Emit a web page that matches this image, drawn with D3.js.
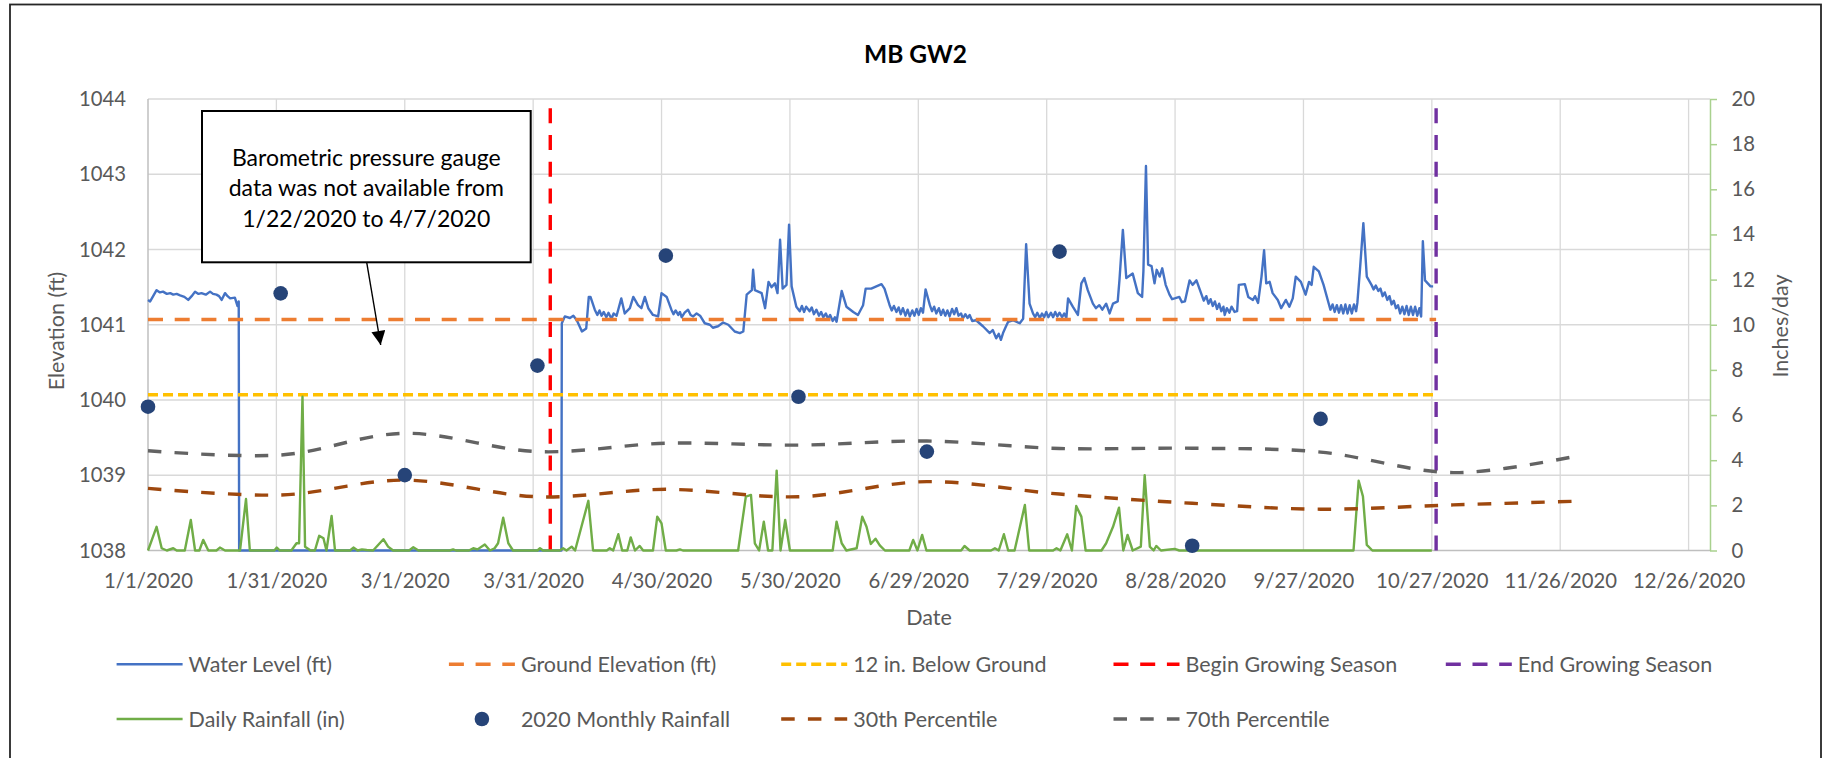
<!DOCTYPE html>
<html>
<head>
<meta charset="utf-8">
<script src="https://cdn.jsdelivr.net/npm/d3@7"></script>
<style>
body { margin: 0; background: #fff; }
svg text { font-family: Lato, "Open Sans", sans-serif; }
</style>
</head>
<body>
<div id="chart"></div>
<script>
// ---- data (days are counted from 1/1/2020) ----
var xTickLabels = ["1/1/2020", "1/31/2020", "3/1/2020", "3/31/2020", "4/30/2020", "5/30/2020",
    "6/29/2020", "7/29/2020", "8/28/2020", "9/27/2020", "10/27/2020", "11/26/2020", "12/26/2020"];
var leftTicks = [1038, 1039, 1040, 1041, 1042, 1043, 1044];
var rightTicks = [0, 2, 4, 6, 8, 10, 12, 14, 16, 18, 20];

var waterLevel = [
    [0, 1041.33], [0.5, 1041.31], [1, 1041.36], [2, 1041.46], [2.8, 1041.43], [3.5, 1041.44], [4.4, 1041.41],
    [5.2, 1041.42], [5.9, 1041.40], [6.7, 1041.41], [7.5, 1041.39], [8.5, 1041.37], [9.4, 1041.33], [10.2, 1041.38],
    [11, 1041.44], [11.8, 1041.41], [12.5, 1041.42], [13.5, 1041.40], [14.5, 1041.44], [15.2, 1041.41], [16, 1041.40],
    [16.6, 1041.38], [17.2, 1041.33], [18, 1041.42], [18.6, 1041.38], [19.2, 1041.35], [20.3, 1041.36], [20.9, 1041.25],
    [21.2, 1041.31], [21.3, 1038], [96.6, 1038], [96.7, 1041.02], [97.4, 1041.11], [98.6, 1041.09], [99.4, 1041.12],
    [100.2, 1041.06], [101.4, 1040.91], [102.4, 1040.95], [103, 1041.37], [103.4, 1041.37], [104.4, 1041.20],
    [105, 1041.13], [105.5, 1041.19], [106, 1041.12], [106.5, 1041.17], [107.1, 1041.10], [107.6, 1041.16],
    [108.3, 1041.08], [108.8, 1041.15], [109.5, 1041.12], [110.6, 1041.35], [111.4, 1041.15],
    [112.6, 1041.22], [113.4, 1041.37], [114.5, 1041.26], [115.3, 1041.22], [116.1, 1041.37], [116.9, 1041.22],
    [118, 1041.13], [119.2, 1041.11], [120, 1041.42], [121.2, 1041.37], [122.3, 1041.20], [122.8, 1041.14],
    [123.3, 1041.19], [123.9, 1041.13], [124.3, 1041.17], [124.7, 1041.10], [125.4, 1041.16], [126.2, 1041.20],
    [126.8, 1041.13], [127.4, 1041.11], [128.2, 1041.15], [129, 1041.12], [130.1, 1041.02], [131.3, 1041.00],
    [132, 1040.96], [133.2, 1040.98], [134.4, 1041.03], [135.6, 1041.00], [137.1, 1040.91], [138.3, 1040.89],
    [139.1, 1040.91], [139.9, 1041.40], [141.1, 1041.46], [141.4, 1041.73], [141.8, 1041.46], [142.6, 1041.44],
    [143.4, 1041.42], [144.2, 1041.22], [145, 1041.57], [145.7, 1041.50], [146.5, 1041.55], [147.1, 1041.42],
    [147.7, 1042.13], [148.3, 1041.48], [149.2, 1041.53], [149.8, 1042.33], [150.4, 1041.51], [151.5, 1041.24],
    [152.3, 1041.18], [152.8, 1041.25], [153.3, 1041.17], [153.8, 1041.24], [154.6, 1041.18], [155.1, 1041.23],
    [155.6, 1041.14], [156.2, 1041.20], [156.8, 1041.12], [157.3, 1041.17], [157.8, 1041.10], [158.4, 1041.15],
    [158.9, 1041.08], [159.4, 1041.13], [160, 1041.05], [160.5, 1041.10], [160.9, 1041.04],
    [162.1, 1041.45], [163.2, 1041.24], [164.8, 1041.17], [165.9, 1041.13], [167.1, 1041.26], [167.7, 1041.48],
    [169, 1041.48], [170.2, 1041.51], [171.4, 1041.54], [172.1, 1041.48], [173.3, 1041.26], [173.8, 1041.19],
    [174.3, 1041.25], [174.9, 1041.17], [175.4, 1041.23], [175.9, 1041.14], [176.4, 1041.22], [177, 1041.12],
    [177.5, 1041.20], [178, 1041.11], [178.6, 1041.19], [179.1, 1041.12], [179.6, 1041.21], [180.1, 1041.13],
    [180.6, 1041.22], [181.1, 1041.16], [181.7, 1041.47], [182.7, 1041.26], [183.2, 1041.18], [183.7, 1041.24],
    [184.2, 1041.15], [184.8, 1041.22], [185.3, 1041.13], [185.8, 1041.20], [186.3, 1041.12], [186.8, 1041.19],
    [187.3, 1041.11], [187.9, 1041.21], [188.4, 1041.14], [188.9, 1041.22], [189.4, 1041.12], [190, 1041.15],
    [190.4, 1041.08], [191, 1041.14], [191.5, 1041.09], [192, 1041.13], [192.6, 1041.05], [193.5, 1041.06],
    [195.1, 1040.98], [196.7, 1040.89], [197.4, 1040.93], [198.2, 1040.82], [198.8, 1040.88], [199.3, 1040.80],
    [199.8, 1040.89], [200.5, 1040.98], [201, 1041.04], [202.1, 1041.06], [203.7, 1041.02], [204.5, 1041.08],
    [205.2, 1042.07], [206, 1041.28], [206.8, 1041.15], [207.3, 1041.10], [207.8, 1041.16], [208.4, 1041.09],
    [208.9, 1041.15], [209.4, 1041.10], [209.9, 1041.17], [210.4, 1041.10], [211, 1041.16], [211.5, 1041.10],
    [212, 1041.17], [212.5, 1041.11], [213, 1041.16], [213.6, 1041.10], [214.1, 1041.15], [214.6, 1041.09],
    [215, 1041.35], [216.1, 1041.24], [217.3, 1041.13], [218.1, 1041.55], [218.8, 1041.62], [219.6, 1041.46],
    [220.8, 1041.28], [221.5, 1041.22], [222.3, 1041.26], [223, 1041.20], [223.9, 1041.28], [224.7, 1041.15],
    [225.5, 1041.28], [226.6, 1041.31], [227, 1041.59], [227.8, 1042.26], [228.6, 1041.62], [230.1, 1041.68],
    [231.3, 1041.42], [232.3, 1041.37], [232.6, 1041.71], [233.2, 1043.11], [233.7, 1041.80], [234.5, 1041.78],
    [235.2, 1041.55], [235.7, 1041.73], [236.4, 1041.64], [237, 1041.75], [237.8, 1041.53], [238.7, 1041.40],
    [239.3, 1041.34], [239.9, 1041.35], [241, 1041.37], [241.6, 1041.30], [242.3, 1041.31], [243.4, 1041.59],
    [244.1, 1041.53], [245, 1041.59], [246.2, 1041.40], [246.7, 1041.32], [247.3, 1041.38], [247.8, 1041.28],
    [248.3, 1041.34], [248.8, 1041.25], [249.3, 1041.31], [249.8, 1041.21], [250.3, 1041.28], [250.8, 1041.18],
    [251.3, 1041.24], [251.6, 1041.13], [252.1, 1041.22], [252.7, 1041.16], [253.2, 1041.24], [253.9, 1041.17],
    [254.5, 1041.18], [254.9, 1041.53], [256.3, 1041.54], [257.1, 1041.37], [258.2, 1041.33], [258.7, 1041.38],
    [259.4, 1041.29], [260.2, 1041.64], [260.8, 1041.99], [261.3, 1041.55], [262.1, 1041.57], [262.8, 1041.42],
    [264, 1041.33], [264.8, 1041.22], [265.9, 1041.33], [266.7, 1041.24], [267.5, 1041.35], [268.2, 1041.64],
    [269.4, 1041.57], [270.5, 1041.40], [271.3, 1041.57], [271.9, 1041.53], [272.4, 1041.77], [273.6, 1041.71],
    [274.7, 1041.53], [276.3, 1041.20], [276.8, 1041.27], [277.3, 1041.17], [277.8, 1041.26], [278.3, 1041.16],
    [278.8, 1041.26], [279.3, 1041.15], [279.8, 1041.27], [280.3, 1041.15], [280.8, 1041.26], [281.3, 1041.15],
    [281.8, 1041.27], [282.3, 1041.18], [282.6, 1041.29], [283.2, 1041.73], [284, 1042.35], [284.8, 1041.64],
    [285.9, 1041.53], [286.4, 1041.47], [286.9, 1041.52], [287.5, 1041.45], [288, 1041.48], [288.5, 1041.38],
    [289, 1041.43], [289.6, 1041.33], [290.1, 1041.38], [290.6, 1041.27], [291.1, 1041.32], [291.6, 1041.22],
    [292.1, 1041.26], [292.6, 1041.15], [293.1, 1041.24], [293.6, 1041.14], [294.1, 1041.25], [294.6, 1041.13],
    [295.1, 1041.24], [295.6, 1041.13], [296.1, 1041.24], [296.6, 1041.12], [297.1, 1041.22], [297.5, 1041.11],
    [297.9, 1042.11], [298.4, 1041.59], [299.7, 1041.51], [300.3, 1041.51]
];

var rainfallDaily = [
    [0, 0], [2, 1.05], [3.2, 0.1], [4.4, 0], [5.9, 0.1], [6.7, 0], [8.6, 0], [10, 1.35], [11, 0], [12, 0],
    [12.9, 0.47], [14.1, 0], [16, 0], [16.8, 0.13], [18, 0], [21.5, 0], [22.9, 2.28], [23.8, 0], [29.5, 0],
    [30.1, 0.13], [30.8, 0], [33.5, 0], [34.7, 0.32], [35.3, 0.32], [36.1, 6.81], [36.7, 0.17], [38, 0], [39, 0],
    [40, 0.65], [41, 0.54], [41.7, 0], [42.9, 1.53], [43.7, 0], [47.2, 0], [48, 0.13], [49, 0], [50, 0.05],
    [51.1, 0.02], [52.6, 0], [55, 0.5], [56.1, 0.17], [57.3, 0], [61, 0], [62, 0.14], [63.2, 0], [70.5, 0],
    [71.3, 0.05], [72, 0], [75, 0], [76, 0.1], [77, 0.05], [78.7, 0.27], [79.9, 0], [81, 0.1], [81.8, 0.32],
    [83, 1.45], [84.2, 0.32], [85.3, 0], [91, 0], [91.6, 0.1], [92.3, 0], [96.2, 0], [97, 0.1], [97.8, 0],
    [99, 0.17], [99.8, 0], [102.9, 2.2], [104, 0], [107.2, 0], [107.9, 0.1], [108.7, 0], [109.9, 0.72],
    [110.8, 0], [112, 0], [112.8, 0.58], [113.8, 0], [114.9, 0.2], [115.7, 0], [118, 0], [119, 1.5], [120, 1.2],
    [121, 0], [123.5, 0], [124.3, 0.05], [125, 0], [137.9, 0], [139.7, 2.39], [140.9, 2.46], [141.8, 0.32],
    [142.8, 0], [143.9, 1.28], [144.9, 0], [145.9, 0], [146.9, 3.54], [147.8, 0], [148.9, 1.35], [150, 0],
    [160, 0], [160.9, 1.28], [162.1, 0.32], [163.2, 0], [165.6, 0.1], [166.9, 1.5], [167.9, 1.05], [168.9, 0.29],
    [170, 0.52], [171, 0.23], [172.2, 0], [177.9, 0], [178.8, 0.47], [179.8, 0], [180.9, 0.69], [181.9, 0],
    [190, 0], [190.8, 0.2], [192, 0], [197, 0], [197.9, 0.1], [198.8, 0], [200, 0.72], [201, 0], [202.5, 0],
    [204.9, 2.02], [205.9, 0], [211.5, 0], [212.3, 0.1], [213.2, 0], [214.8, 0.72], [215.9, 0], [216.9, 1.97],
    [218.1, 1.5], [219.1, 0], [222.8, 0], [223.9, 0.32], [225.5, 1.05], [226.9, 1.9], [227.9, 0], [228.9, 0.69],
    [230.1, 0], [232, 0.17], [232.9, 3.34], [234.1, 0.17], [235, 0], [235.6, 0.2], [236.7, 0], [239.9, 0.07],
    [241, 0], [281.7, 0], [282.9, 3.09], [283.9, 2.4], [284.8, 0.25], [286.1, 0], [300, 0]
];

var monthlyDates = ["1/1/2020", "2/1/2020", "3/1/2020", "4/1/2020", "5/1/2020",
    "6/1/2020", "7/1/2020", "8/1/2020", "9/1/2020", "10/1/2020"];
var monthlyRain = [6.37, 11.39, 3.34, 8.19, 13.06, 6.81, 4.38, 13.24, 0.21, 5.83];

var pctDates = ["1/1/2020", "2/1/2020", "3/1/2020", "4/1/2020", "5/1/2020", "6/1/2020",
    "7/1/2020", "8/1/2020", "9/1/2020", "10/1/2020", "11/1/2020", "12/1/2020"];
var pct30 = [2.75, 2.46, 3.12, 2.38, 2.71, 2.38, 3.05, 2.50, 2.09, 1.83, 2.02, 2.19];
var pct70 = [4.42, 4.23, 5.19, 4.38, 4.75, 4.67, 4.85, 4.52, 4.53, 4.36, 3.45, 4.23];

var groundDates = ["1/1/2020", "10/28/2020"];
var groundElev = [1041.07, 1041.07];
var belowGround = [1040.07, 1040.07];
var beginSeason = "4/4/2020";
var endSeason = "10/28/2020";

// ---- layout ----
var width = 1828;
var height = 758;
var LEFT = 148, RIGHT = 1710, TOP = 99, BOTTOM = 550.5;
var size_tick = 20.3;
var size_font = 21.5;
var TEXT = "#595959";

var parse = d3.utcParse("%m/%d/%Y");
var day0 = parse("1/1/2020").getTime();
function fromDay(d) { return new Date(day0 + d * 864e5); }

var svg = d3.select("#chart")
    .append("svg")
    .attr("width", width)
    .attr("height", height);

svg.append("rect")
    .attr("x", 10).attr("y", 4.5)
    .attr("width", 1811).attr("height", 770)
    .attr("fill", "#fff")
    .attr("stroke", "#262626")
    .attr("stroke-width", 1.8);

// scales
var xScale = d3.scaleUtc()
    .domain([parse("1/1/2020"), parse("12/31/2020")])
    .range([LEFT, RIGHT]);
var yScale = d3.scaleLinear().domain([1038, 1044]).range([BOTTOM, TOP]);
var y2Scale = d3.scaleLinear().domain([0, 20]).range([BOTTOM, TOP]);

var xTicks = xTickLabels.map(parse);

// gridlines
var grid = svg.append("g").attr("stroke", "#d9d9d9").attr("stroke-width", 1.3);
grid.selectAll("line.h")
    .data(leftTicks.slice(1))
    .enter().append("line")
    .attr("x1", LEFT).attr("x2", RIGHT)
    .attr("y1", function (d) { return yScale(d); })
    .attr("y2", function (d) { return yScale(d); });
grid.selectAll("line.v")
    .data(xTicks.slice(1))
    .enter().append("line")
    .attr("x1", function (d) { return xScale(d); })
    .attr("x2", function (d) { return xScale(d); })
    .attr("y1", TOP).attr("y2", BOTTOM);

// axis lines
svg.append("line").attr("x1", LEFT).attr("x2", LEFT).attr("y1", TOP).attr("y2", BOTTOM)
    .attr("stroke", "#bfbfbf").attr("stroke-width", 1.5);
svg.append("line").attr("x1", LEFT).attr("x2", RIGHT).attr("y1", BOTTOM).attr("y2", BOTTOM)
    .attr("stroke", "#bfbfbf").attr("stroke-width", 1.5);

// X axis
var xAxis = d3.axisBottom(xScale)
    .tickValues(xTicks)
    .tickFormat(d3.utcFormat("%-m/%-d/%Y"))
    .tickSize(0);
var gx = svg.append("g")
    .attr("transform", "translate(0," + BOTTOM + ")")
    .call(xAxis);
gx.select(".domain").remove();
gx.selectAll("text")
    .attr("y", 37.5).attr("dy", null)
    .style("font-size", size_tick + "px").attr("fill", TEXT);

// Y axis (left)
var yAxis = d3.axisLeft(yScale).tickValues(leftTicks).tickFormat(d3.format("d")).tickSize(0).tickPadding(22);
var gy = svg.append("g")
    .attr("transform", "translate(" + LEFT + ",0)")
    .call(yAxis);
gy.select(".domain").remove();
gy.selectAll("text").style("font-size", size_tick + "px").attr("fill", TEXT);

// Y axis (right, rainfall)
var y2Axis = d3.axisRight(y2Scale).tickValues(rightTicks).tickSizeInner(7).tickSizeOuter(0).tickPadding(14.6);
var gy2 = svg.append("g")
    .attr("transform", "translate(" + RIGHT + ",0)")
    .call(y2Axis);
gy2.select(".domain").attr("stroke", "#a9d18e").attr("stroke-width", 1.5);
gy2.selectAll("line").attr("stroke", "#a9d18e").attr("stroke-width", 1.5);
gy2.selectAll("text").style("font-size", size_tick + "px").attr("fill", TEXT);

// ---- series ----
var line = d3.line()
    .x(function (d) { return xScale(fromDay(d[0])); })
    .y(function (d) { return yScale(d[1]); });

svg.append("path")
    .datum(waterLevel)
    .attr("d", line)
    .attr("fill", "none")
    .attr("stroke", "#4472c4")
    .attr("stroke-width", 2.4)
    .attr("stroke-linejoin", "round");

function flatLine(values, color, dash) {
    svg.append("line")
        .attr("x1", xScale(parse(groundDates[0])))
        .attr("x2", xScale(parse(groundDates[1])))
        .attr("y1", yScale(values[0]))
        .attr("y2", yScale(values[1]))
        .attr("stroke", color)
        .attr("stroke-width", 3.4)
        .attr("stroke-dasharray", dash);
}
flatLine(groundElev, "#ed7d31", "15,11.7");
flatLine(belowGround, "#ffc000", "10,5");

function seasonLine(date, color) {
    var x = xScale(parse(date));
    svg.append("line")
        .attr("x1", x).attr("x2", x)
        .attr("y1", yScale(1038)).attr("y2", yScale(1044))
        .attr("stroke", color)
        .attr("stroke-width", 3.4)
        .attr("stroke-dasharray", "15,11.7");
}
seasonLine(beginSeason, "#ff0000");
seasonLine(endSeason, "#7030a0");

// daily rainfall (secondary axis)
var rainLine = d3.line()
    .x(function (d) { return xScale(fromDay(d[0])); })
    .y(function (d) { return y2Scale(d[1]); });
svg.append("path")
    .datum(rainfallDaily)
    .attr("d", rainLine)
    .attr("fill", "none")
    .attr("stroke", "#70ad47")
    .attr("stroke-width", 2.4)
    .attr("stroke-linejoin", "round");

// percentile curves
var pctLine = d3.line()
    .x(function (d) { return xScale(d[0]); })
    .y(function (d) { return y2Scale(d[1]); })
    .curve(d3.curveCardinal);
[[pct30, "#9e480e"], [pct70, "#636363"]].forEach(function (p) {
    svg.append("path")
        .datum(pctDates.map(function (d, i) { return [parse(d), p[0][i]]; }))
        .attr("d", pctLine)
        .attr("fill", "none")
        .attr("stroke", p[1])
        .attr("stroke-width", 3.4)
        .attr("stroke-dasharray", "13.5,13.2");
});

// monthly rainfall points
svg.append("g")
    .selectAll("circle")
    .data(monthlyDates)
    .enter()
    .append("circle")
    .attr("cx", function (d) { return xScale(parse(d)); })
    .attr("cy", function (d, i) { return y2Scale(monthlyRain[i]); })
    .attr("r", 7.3)
    .attr("fill", "#264478");

// ---- titles ----
svg.append("text")
    .text("MB GW2")
    .attr("x", 915.5).attr("y", 63)
    .attr("text-anchor", "middle")
    .style("font-size", "24.5px").style("font-weight", "bold")
    .attr("fill", "#000");

svg.append("text")
    .text("Date")
    .attr("x", (LEFT + RIGHT) / 2).attr("y", 625)
    .attr("text-anchor", "middle")
    .style("font-size", size_font + "px").attr("fill", TEXT);

svg.append("text")
    .text("Elevation (ft)")
    .attr("transform", "translate(64,331) rotate(-90)")
    .attr("text-anchor", "middle")
    .style("font-size", size_font + "px").attr("fill", TEXT);

svg.append("text")
    .text("Inches/day")
    .attr("transform", "translate(1788,326) rotate(-90)")
    .attr("text-anchor", "middle")
    .style("font-size", size_font + "px").attr("fill", TEXT);

// ---- annotation ----
svg.append("defs").append("marker")
    .attr("id", "arrow")
    .attr("viewBox", "0 0 10 10")
    .attr("refX", 10).attr("refY", 5)
    .attr("markerUnits", "userSpaceOnUse")
    .attr("markerWidth", 15).attr("markerHeight", 14)
    .attr("orient", "auto")
    .append("path").attr("d", "M0,0 L10,5 L0,10 Z").attr("fill", "#000");

svg.append("line")
    .attr("x1", 366.7).attr("y1", 262.3)
    .attr("x2", 380.7).attr("y2", 345)
    .attr("stroke", "#000").attr("stroke-width", 1.4)
    .attr("marker-end", "url(#arrow)");

svg.append("rect")
    .attr("x", 202).attr("y", 111)
    .attr("width", 328.7).attr("height", 151.3)
    .attr("fill", "#fff")
    .attr("stroke", "#000").attr("stroke-width", 2);

var note = ["Barometric pressure gauge", "data was not available from", "1/22/2020 to 4/7/2020"];
svg.append("g")
    .selectAll("text")
    .data(note)
    .enter()
    .append("text")
    .text(function (d) { return d; })
    .attr("x", 366.3)
    .attr("y", function (d, i) { return 165.7 + i * 30.6; })
    .attr("text-anchor", "middle")
    .style("font-size", "23px").attr("fill", "#000");

// ---- legend ----
var legendItems = [
    { label: "Water Level (ft)", color: "#4472c4", dash: null, w: 2.4, col: 0, row: 0 },
    { label: "Ground Elevation (ft)", color: "#ed7d31", dash: "15,11.7", w: 3.4, col: 1, row: 0 },
    { label: "12 in. Below Ground", color: "#ffc000", dash: "10,5", w: 3.4, col: 2, row: 0 },
    { label: "Begin Growing Season", color: "#ff0000", dash: "15,11.7", w: 3.4, col: 3, row: 0 },
    { label: "End Growing Season", color: "#7030a0", dash: "15,11.7", w: 3.4, col: 4, row: 0 },
    { label: "Daily Rainfall (in)", color: "#70ad47", dash: null, w: 2.4, col: 0, row: 1 },
    { label: "2020 Monthly Rainfall", color: "#264478", dot: true, col: 1, row: 1 },
    { label: "30th Percentile", color: "#9e480e", dash: "13.5,13.2", w: 3.4, col: 2, row: 1 },
    { label: "70th Percentile", color: "#636363", dash: "13.5,13.2", w: 3.4, col: 3, row: 1 }
];
var legend = svg.append("g")
    .selectAll("g")
    .data(legendItems)
    .enter()
    .append("g")
    .attr("transform", function (d) {
        return "translate(" + (116.6 + d.col * 332.3) + "," + (664.3 + d.row * 54.7) + ")";
    });
legend.filter(function (d) { return !d.dot; })
    .append("line")
    .attr("x1", 0).attr("x2", 66).attr("y1", 0).attr("y2", 0)
    .attr("stroke", function (d) { return d.color; })
    .attr("stroke-width", function (d) { return d.w; })
    .attr("stroke-dasharray", function (d) { return d.dash; });
legend.filter(function (d) { return d.dot; })
    .append("circle")
    .attr("cx", 33).attr("cy", 0).attr("r", 7.3)
    .attr("fill", function (d) { return d.color; });
legend.append("text")
    .text(function (d) { return d.label; })
    .attr("x", 72).attr("y", 7.5)
    .style("font-size", size_font + "px").attr("fill", TEXT);
</script>
</body>
</html>
